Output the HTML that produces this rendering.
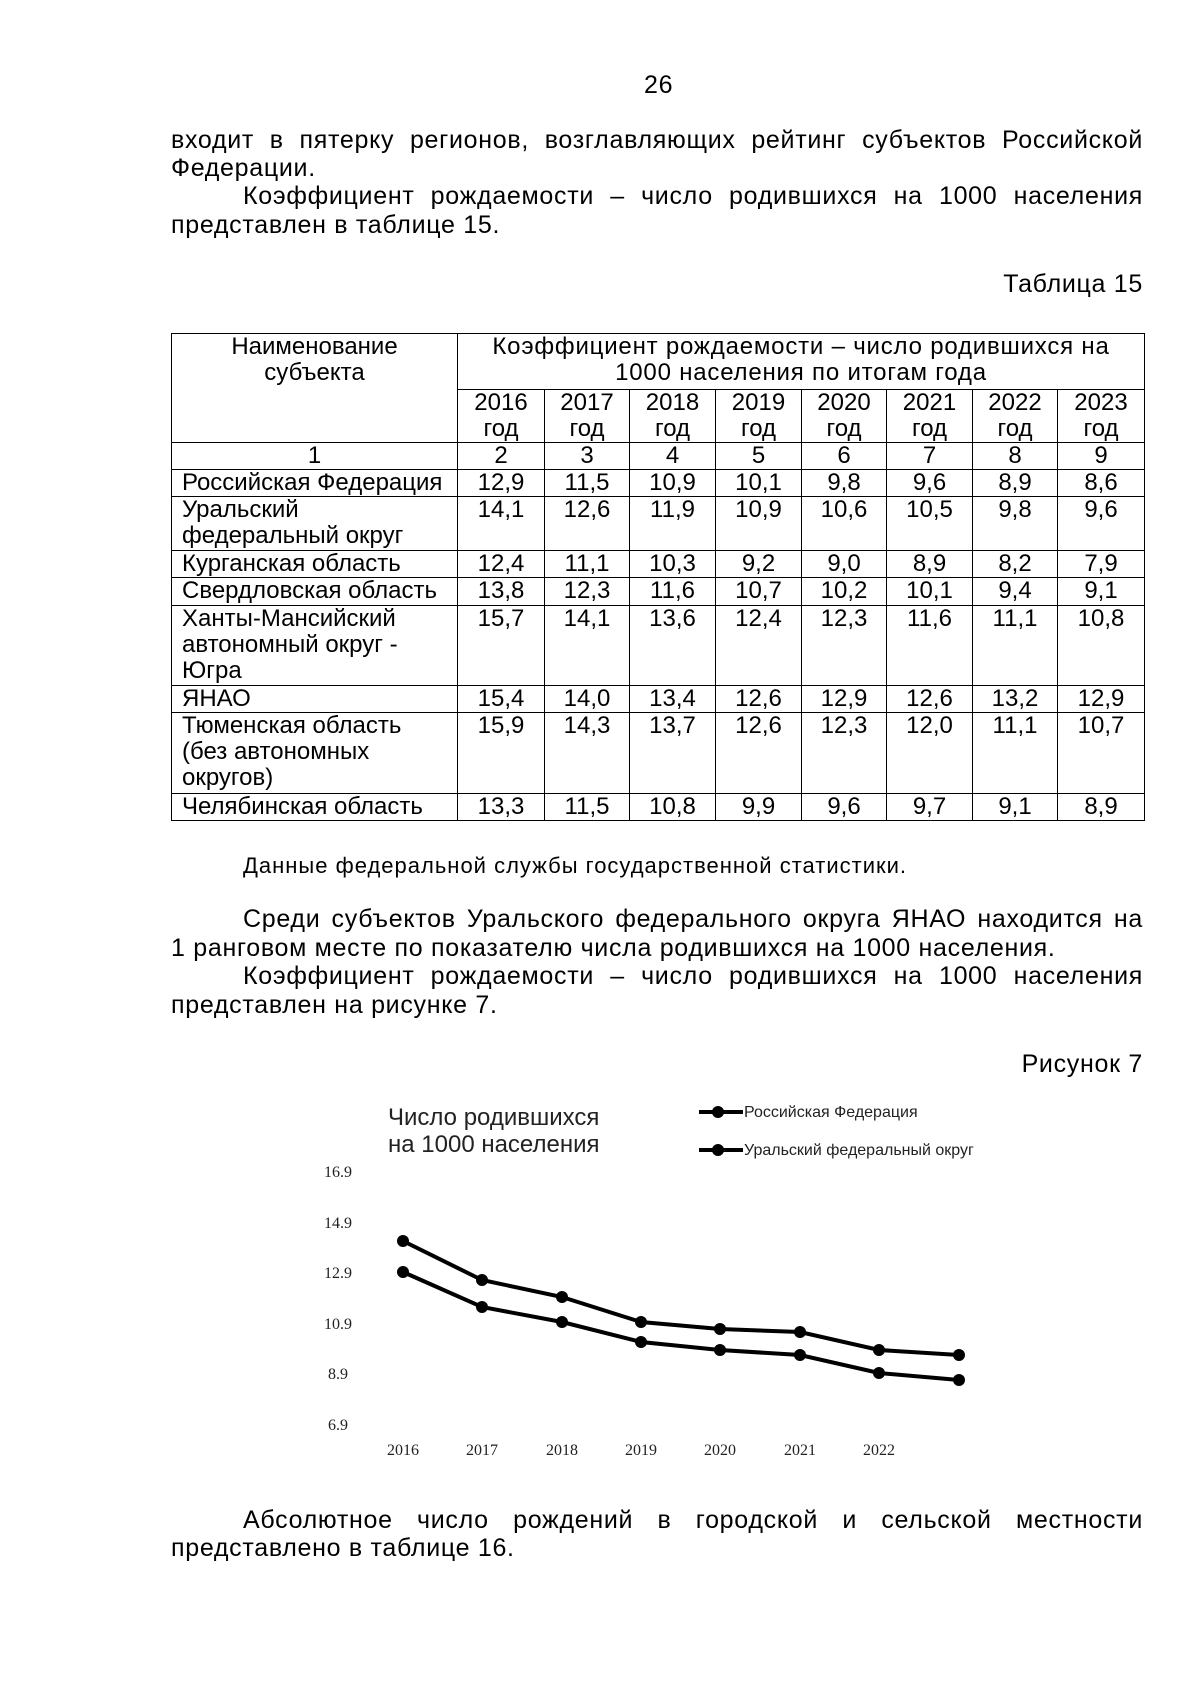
<!DOCTYPE html>
<html><head><meta charset="utf-8"><style>
body{margin:0;background:#fff;}
.pg{position:relative;width:1200px;height:1697px;font-family:"Liberation Sans",sans-serif;color:#000;font-size:25px;letter-spacing:0.7px;overflow:hidden}
.a{position:absolute;white-space:nowrap}
.j{position:absolute;left:171px;width:972px;text-align:justify;text-align-last:justify;white-space:nowrap;line-height:28px}
.jl{position:absolute;left:171px;width:972px;white-space:nowrap;line-height:28px}
table{position:absolute;left:171px;top:333px;border-collapse:collapse;table-layout:fixed;font-size:24px;letter-spacing:0}
td{border:1px solid #000;padding:0;vertical-align:top;text-align:center;line-height:26px;overflow:hidden;white-space:nowrap}
td.l{text-align:left;padding-left:10px}
</style></head><body><div class="pg">
<div class="a" style="left:644px;top:71px">26</div>
<div class="j" style="top:126px">входит в пятерку регионов, возглавляющих рейтинг субъектов Российской</div>
<div class="jl" style="top:154px">Федерации.</div>
<div class="j" style="top:182px;padding-left:72px;width:900px">Коэффициент рождаемости – число родившихся на 1000 населения</div>
<div class="jl" style="top:211px">представлен в таблице 15.</div>
<div class="a" style="right:57px;top:270px">Таблица 15</div>
<table>
<colgroup><col style="width:286px"><col style="width:87px"><col style="width:85px"><col style="width:86px"><col style="width:86px"><col style="width:85px"><col style="width:86px"><col style="width:85px"><col style="width:87px"></colgroup>
<tr style="height:56px"><td rowspan="2">Наименование<br>субъекта</td><td colspan="8" style="letter-spacing:0.8px">Коэффициент рождаемости – число родившихся на<br>1000 населения по итогам года</td></tr>
<tr style="height:53px"><td>2016<br>год</td><td>2017<br>год</td><td>2018<br>год</td><td>2019<br>год</td><td>2020<br>год</td><td>2021<br>год</td><td>2022<br>год</td><td>2023<br>год</td></tr>
<tr style="height:27px"><td>1</td><td>2</td><td>3</td><td>4</td><td>5</td><td>6</td><td>7</td><td>8</td><td>9</td></tr>
<tr style="height:27px"><td class="l">Российская Федерация</td><td>12,9</td><td>11,5</td><td>10,9</td><td>10,1</td><td>9,8</td><td>9,6</td><td>8,9</td><td>8,6</td></tr>
<tr style="height:54px"><td class="l">Уральский<br>федеральный округ</td><td>14,1</td><td>12,6</td><td>11,9</td><td>10,9</td><td>10,6</td><td>10,5</td><td>9,8</td><td>9,6</td></tr>
<tr style="height:27px"><td class="l">Курганская область</td><td>12,4</td><td>11,1</td><td>10,3</td><td>9,2</td><td>9,0</td><td>8,9</td><td>8,2</td><td>7,9</td></tr>
<tr style="height:28px"><td class="l">Свердловская область</td><td>13,8</td><td>12,3</td><td>11,6</td><td>10,7</td><td>10,2</td><td>10,1</td><td>9,4</td><td>9,1</td></tr>
<tr style="height:80px"><td class="l">Ханты-Мансийский<br>автономный округ -<br>Югра</td><td>15,7</td><td>14,1</td><td>13,6</td><td>12,4</td><td>12,3</td><td>11,6</td><td>11,1</td><td>10,8</td></tr>
<tr style="height:27px"><td class="l">ЯНАО</td><td>15,4</td><td>14,0</td><td>13,4</td><td>12,6</td><td>12,9</td><td>12,6</td><td>13,2</td><td>12,9</td></tr>
<tr style="height:81px"><td class="l">Тюменская область<br>(без автономных<br>округов)</td><td>15,9</td><td>14,3</td><td>13,7</td><td>12,6</td><td>12,3</td><td>12,0</td><td>11,1</td><td>10,7</td></tr>
<tr style="height:27px"><td class="l">Челябинская область</td><td>13,3</td><td>11,5</td><td>10,8</td><td>9,9</td><td>9,6</td><td>9,7</td><td>9,1</td><td>8,9</td></tr>
</table>
<div class="a" style="left:243px;top:853px;font-size:22px;letter-spacing:1px">Данные федеральной службы государственной статистики.</div>
<div class="j" style="top:905px;padding-left:72px;width:900px">Среди субъектов Уральского федерального округа ЯНАО находится на</div>
<div class="jl" style="top:934px">1 ранговом месте по показателю числа родившихся на 1000 населения.</div>
<div class="j" style="top:962px;padding-left:72px;width:900px">Коэффициент рождаемости – число родившихся на 1000 населения</div>
<div class="jl" style="top:991px">представлен на рисунке 7.</div>
<div class="a" style="right:57px;top:1050px">Рисунок 7</div>
<svg class="a" style="left:0;top:0;letter-spacing:0" width="1200" height="1697" font-family="Liberation Sans, sans-serif">
<text x="388" y="1125" font-size="24" fill="#222">Число родившихся</text>
<text x="388" y="1152" font-size="24" fill="#222">на 1000 населения</text>
<g stroke="#000" stroke-width="4"><line x1="699" y1="1112" x2="743" y2="1112"/><line x1="699" y1="1150" x2="743" y2="1150"/></g>
<circle cx="718" cy="1112" r="6"/><circle cx="718" cy="1150" r="6"/>
<text x="744" y="1117" font-size="16" fill="#222">Российская Федерация</text>
<text x="744" y="1155" font-size="16" fill="#222">Уральский федеральный округ</text>
<g font-size="16" font-family="Liberation Serif, serif" fill="#222" text-anchor="middle">
<text x="338" y="1177">16.9</text><text x="338" y="1228">14.9</text><text x="338" y="1278">12.9</text><text x="338" y="1329">10.9</text><text x="338" y="1379">8.9</text><text x="338" y="1430">6.9</text>
<text x="403" y="1455">2016</text><text x="482" y="1455">2017</text><text x="562" y="1455">2018</text><text x="641" y="1455">2019</text><text x="720" y="1455">2020</text><text x="800" y="1455">2021</text><text x="879" y="1455">2022</text>
</g>
<polyline fill="none" stroke="#000" stroke-width="4" points="403,1241 482,1280 562,1297 641,1322 720,1329 800,1332 879,1350 959,1355"/>
<polyline fill="none" stroke="#000" stroke-width="4" points="403,1272 482,1307 562,1322 641,1342 720,1350 800,1355 879,1373 959,1380"/>
<g fill="#000">
<circle cx="403" cy="1241" r="6"/><circle cx="482" cy="1280" r="6"/><circle cx="562" cy="1297" r="6"/><circle cx="641" cy="1322" r="6"/><circle cx="720" cy="1329" r="6"/><circle cx="800" cy="1332" r="6"/><circle cx="879" cy="1350" r="6"/><circle cx="959" cy="1355" r="6"/>
<circle cx="403" cy="1272" r="6"/><circle cx="482" cy="1307" r="6"/><circle cx="562" cy="1322" r="6"/><circle cx="641" cy="1342" r="6"/><circle cx="720" cy="1350" r="6"/><circle cx="800" cy="1355" r="6"/><circle cx="879" cy="1373" r="6"/><circle cx="959" cy="1380" r="6"/>
</g>
</svg>
<div class="j" style="top:1506px;padding-left:72px;width:900px">Абсолютное число рождений в городской и сельской местности</div>
<div class="jl" style="top:1534px">представлено в таблице 16.</div>
</div></body></html>
